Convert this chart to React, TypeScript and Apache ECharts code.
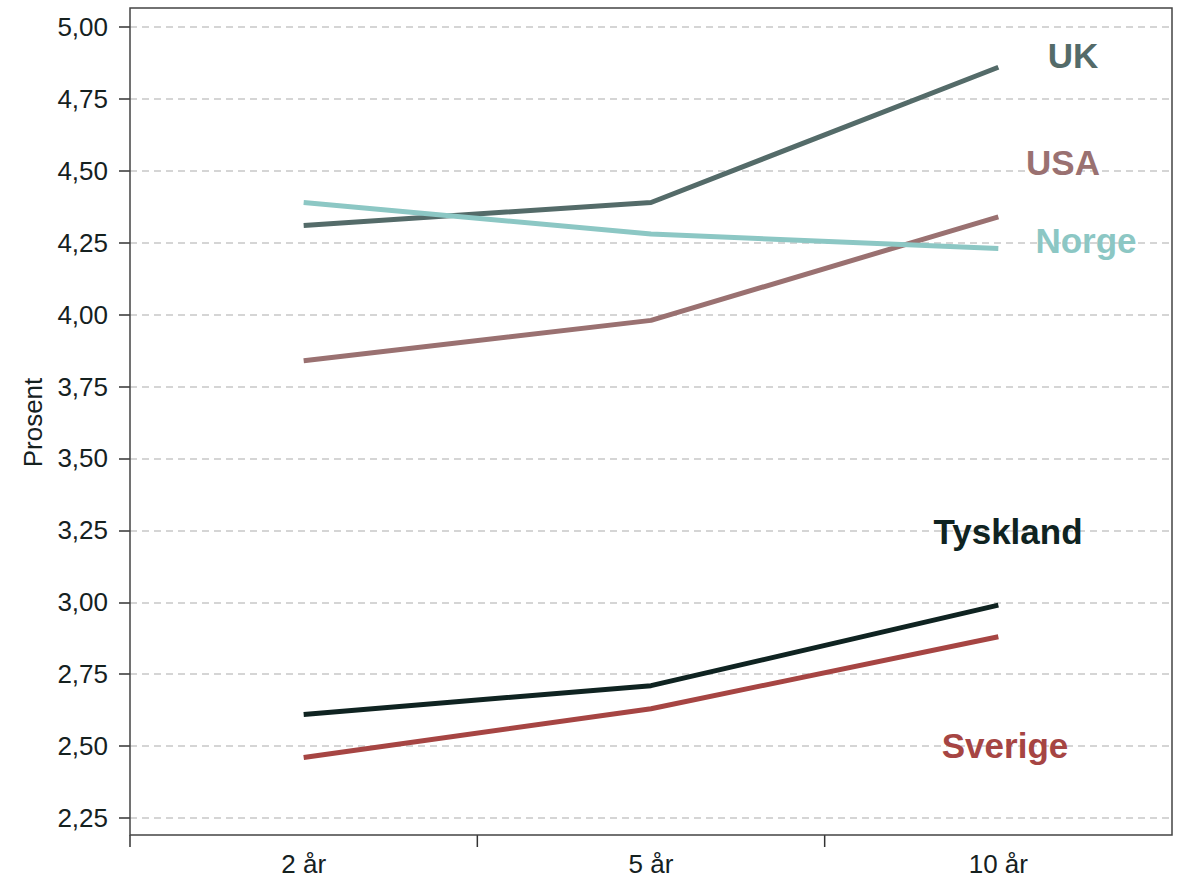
import React, { useEffect, useRef } from "react";
import * as echarts from "echarts";

const categories = ["2 år", "5 år", "10 år"];
const seriesNames = ["UK", "USA", "Norge", "Tyskland", "Sverige"];
const ukValues = [4.31, 4.39, 4.86];
const usaValues = [3.84, 3.98, 4.34];
const norgeValues = [4.39, 4.28, 4.23];
const tysklandValues = [2.61, 2.71, 2.99];
const sverigeValues = [2.46, 2.63, 2.88];
const seriesColors = ["#546b69", "#9a7171", "#8cc7c4", "#0f2321", "#a64543"];
const yMin = 2.25;
const yMax = 5.0;
const yInterval = 0.25;
const yAxisTitle = "Prosent";

// label placements (pixels) for the series names
const labelPos = [
  { x: 1073, y: 55 },
  { x: 1063, y: 162 },
  { x: 1086, y: 240 },
  { x: 1008, y: 531 },
  { x: 1005, y: 745 },
];

export default function App() {
  const ref = useRef<HTMLDivElement>(null);
  useEffect(() => {
    if (!ref.current) return;
    const chart = echarts.init(ref.current, undefined, { renderer: "svg" });
    const values = [ukValues, usaValues, norgeValues, tysklandValues, sverigeValues];
    const textColor = "#15211f";
    chart.setOption({
      animation: false,
      backgroundColor: "#ffffff",
      grid: { left: 130, top: 27, width: 1042, height: 791, containLabel: false },
      xAxis: {
        type: "category",
        data: categories,
        boundaryGap: true,
        offset: 17,
        axisLine: { show: false },
        axisTick: { show: false },
        axisLabel: { color: textColor, fontSize: 26, fontFamily: "Liberation Sans, Arial", margin: 16 },
        splitLine: { show: false },
      },
      yAxis: {
        type: "value",
        min: yMin,
        max: yMax,
        interval: yInterval,
        name: yAxisTitle,
        nameLocation: "middle",
        nameGap: 84,
        nameTextStyle: { color: textColor, fontSize: 26, fontFamily: "Liberation Sans, Arial" },
        axisLine: { show: false },
        axisTick: { show: true, length: 11, lineStyle: { color: "#333333", width: 1.5 } },
        axisLabel: {
          color: textColor,
          fontSize: 26,
          fontFamily: "Liberation Sans, Arial",
          margin: 22,
          formatter: (v: number) => v.toFixed(2).replace(".", ","),
        },
        splitLine: { show: true, lineStyle: { color: "#c8c8c8", width: 1.5, type: [7, 5] } },
      },
      series: seriesNames.map((name, i) => ({
        name,
        type: "line",
        data: values[i],
        symbol: "none",
        lineStyle: { color: seriesColors[i], width: 5 },
        itemStyle: { color: seriesColors[i] },
        z: 3,
      })),
    });

    // x-axis ticks at category boundaries (all but the right-most edge)
    const c0 = chart.convertToPixel({ xAxisIndex: 0 }, 0) as number;
    const c1 = chart.convertToPixel({ xAxisIndex: 0 }, 1) as number;
    const band = c1 - c0;
    const yBottom = chart.convertToPixel({ yAxisIndex: 0 }, yMin) as number;
    const yTop = chart.convertToPixel({ yAxisIndex: 0 }, yMax) as number;
    const frameLeft = c0 - band / 2;
    const frameRight = frameLeft + band * categories.length;
    const frameTop = yTop - 19;
    const frameBottom = yBottom + 17;
    const tickLines = categories.map((_, k) => ({
      type: "line",
      shape: { x1: frameLeft + k * band, y1: frameBottom, x2: frameLeft + k * band, y2: frameBottom + 12 },
      style: { stroke: "#333333", lineWidth: 1.5 },
      z: 100,
      silent: true,
    }));

    chart.setOption({
      graphic: [
        {
          type: "rect",
          shape: { x: frameLeft, y: frameTop, width: frameRight - frameLeft, height: frameBottom - frameTop },
          style: { fill: "none", stroke: "#444444", lineWidth: 1.5 },
          z: 101,
          silent: true,
        },
        ...tickLines,
        ...seriesNames.map((name, i) => ({
          type: "text",
          x: labelPos[i].x,
          y: labelPos[i].y,
          style: {
            text: name,
            fill: seriesColors[i],
            font: "bold 35px 'Liberation Sans', Arial, sans-serif",
            textAlign: "center",
            textVerticalAlign: "middle",
          },
          z: 50,
        })),
      ],
    });
    return () => chart.dispose();
  }, []);
  return (
    <div
      ref={ref}
      style={{ position: "absolute", left: 0, top: 0, width: 1184, height: 880 }}
    />
  );
}
